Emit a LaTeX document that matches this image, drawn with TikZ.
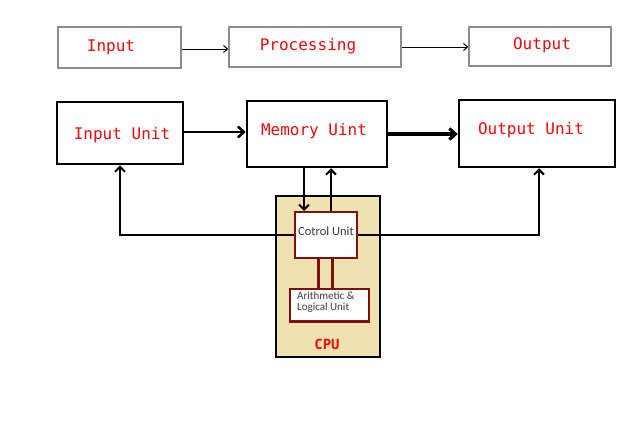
\documentclass[tikz,border=0pt]{standalone}
\usepackage{fontspec}
\setmainfont{Carlito}
\newfontfamily\monof{DejaVu Sans Mono}
\usetikzlibrary{arrows.meta}
\definecolor{lblred}{RGB}{235,10,10}
\definecolor{cputan}{RGB}{240,226,176}
\definecolor{boxred}{RGB}{125,15,15}
\definecolor{txtgray}{RGB}{55,60,75}
\definecolor{topgray}{RGB}{140,140,140}
\tikzset{
  topbox/.style={draw=topgray, line width=1.5pt, fill=white, inner sep=0pt},
  unitbox/.style={draw=black, line width=2.5pt, fill=white, inner sep=0pt},
  cpubox/.style={draw=black, line width=2.5pt, fill=cputan, inner sep=0pt},
  redbox/.style={draw=boxred, line width=2pt, fill=white, inner sep=0pt},
  bigtxt/.style={text=lblred, font=\monof\fontsize{16}{18}\selectfont, inner sep=0pt},
  smalltxt/.style={text=txtgray, inner sep=0pt},
  thinarr/.style={draw=black, line width=1pt, -{Straight Barb[length=4pt,width=7pt]}},
  thickarr/.style={draw=black, line width=2.5pt, -{Straight Barb[length=6pt,width=11pt]}},
  midarr/.style={draw=black, line width=2pt, -{Straight Barb[length=5pt,width=10pt]}},
}
\begin{document}
\begin{tikzpicture}[x=1pt,y=-1pt]
\useasboundingbox (0,0) rectangle (640,423);
\fill[white] (0,0) rectangle (640,423);
% top row
\node[topbox, minimum width=123pt, minimum height=41pt] (inB) at (119.5,47.5) {};
\node[topbox, minimum width=172pt, minimum height=40pt] (procB) at (315,47) {};
\node[topbox, minimum width=142pt, minimum height=39pt] (outB) at (540,46.5) {};
\node[bigtxt] (inT) at (111,47) {Input};
\node[bigtxt] (procT) at (308,46) {Processing};
\node[bigtxt] (outT) at (542,45) {Output};
\draw[thinarr] ([yshift=-1.5pt]inB.east) -- ([yshift=-1.5pt]inB.east -| procB.west);
\draw[thinarr] (procB.east) -- (procB.east -| outB.west);
% second row
\node[unitbox, minimum width=126pt, minimum height=62pt] (iu) at (120,133) {};
\node[unitbox, minimum width=140pt, minimum height=66pt] (mu) at (317,134) {};
\node[unitbox, minimum width=156pt, minimum height=67pt] (ou) at (537,133.5) {};
\node[bigtxt] (iuT) at (122,135) {Input Unit};
\node[bigtxt] (muT) at (314,131) {Memory Uint};
\node[bigtxt] (ouT) at (531,130) {Output Unit};
\draw[thickarr] ([yshift=1pt]iu.east) -- ([yshift=1pt]iu.east -| mu.west);
\draw[thickarr, line width=3.2pt] (mu.east) -- (mu.east -| ou.west);
% CPU
\node[cpubox, minimum width=104pt, minimum height=161pt] (cpu) at (328,276.5) {};
\node[text=lblred, font=\monof\bfseries\fontsize{14}{16}\selectfont, inner sep=0pt] (cpuT) at (327,344) {CPU};
\node[redbox, minimum width=62pt, minimum height=46pt] (cu) at (326,235) {};
\node[redbox, minimum width=79pt, minimum height=32pt] (alu) at (329.5,305) {};
\draw[boxred, line width=3pt] ([yshift=1pt]alu.south west) -- ([yshift=1pt]alu.south east);
\draw[boxred, line width=3pt] ([xshift=-8pt]cu.south) -- ([xshift=-11.5pt]alu.north);
\draw[boxred, line width=3pt] ([xshift=6pt]cu.south) -- ([xshift=2.5pt]alu.north);
\node[smalltxt, font=\fontsize{12.5}{14}\selectfont] (cuT) at (326,231) {Cotrol Unit};
\node[smalltxt, font=\fontsize{11}{10.5}\selectfont, align=left, anchor=west] (aluT) at (297,302) {Arithmetic \&\\Logical Unit};
% connectors
\draw[midarr] ([xshift=-13pt]mu.south) -- ([xshift=-22pt]cu.north);
\draw[midarr] ([xshift=5pt]cu.north) -- ([xshift=14pt]mu.south);
\draw[midarr] (cu.west) -| (iu.south);
\draw[midarr] (cu.east) -| ([xshift=2pt]ou.south);
\end{tikzpicture}
\end{document}
